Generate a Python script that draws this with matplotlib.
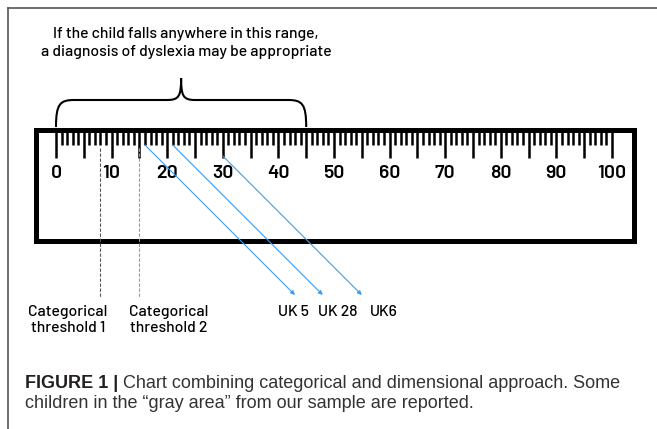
import matplotlib.pyplot as plt
from matplotlib.patches import Rectangle, PathPatch
from matplotlib.path import Path
import numpy as np

# ruler values and annotations
scale_min, scale_max = 0, 100
label_values = list(range(0, 101, 10))
thresholds = [8, 15]
threshold_labels = ['Categorical\nthreshold 1', 'Categorical\nthreshold 2']
children = ['UK 5', 'UK 28', 'UK6']
child_scores = [16, 21, 30]
range_lo, range_hi = 0, 45
range_text = 'If the child falls anywhere in this range,\na diagnosis of dyslexia may be appropriate'
caption_bold = 'FIGURE 1 |'
caption_line1 = ' Chart combining categorical and dimensional approach. Some'
caption_line2 = 'children in the \u201cgray area\u201d from our sample are reported.'

W, H = 657, 429
x0_px, px_per_unit = 56, 5.56   # ruler 0 sits at x=56 px, 5.56 px per unit


def xv(px):
    # pixel column -> ruler value
    return (px - x0_px) / px_per_unit


def u(px):
    # pixel distance -> ruler units
    return px / px_per_unit


din = ['Barlow', 'Barlow Semi Condensed', 'DejaVu Sans']
helv = ['Liberation Sans', 'DejaVu Sans']

fig = plt.figure(figsize=(W / 100, H / 100), dpi=100)
ax = fig.add_axes([0, 0, 1, 1])
ax.set_xlim(xv(0), xv(W))
ax.set_ylim(H, 0)
ax.axis('off')

# page border (top and left only)
ax.plot([xv(8), xv(W)], [8, 8], color='#555555', lw=1.2)
ax.plot([xv(8), xv(8)], [8, H], color='#555555', lw=1.2)

# ruler body
ax.add_patch(Rectangle((xv(35.5), 129.5), xv(634.5) - xv(35.5), 240.5 - 129.5,
                       fill=False, ec='black', lw=3.6, joinstyle='miter'))

# ticks: every unit, long every 5
vals = np.arange(scale_min, scale_max + 1)
tick_bottom = np.where(vals % 5 == 0, 158, 145)
ax.vlines(vals, 131, tick_bottom, color='black', lw=1.8)
for v in label_values:
    ax.text(v, 173, str(v), ha='center', va='center', fontsize=14,
            family=din, fontweight='semibold')

# brace over the dyslexia range
mid = (range_lo + range_hi) / 2
verts = [(range_lo, 127), (range_lo, 104), (range_lo + u(4), 100), (range_lo + u(18), 100),
         (mid - u(14), 100), (mid - u(14), 100), (mid - u(14), 100),
         (mid - u(2), 100), (mid, 96), (mid, 78),
         (mid, 96), (mid + u(2), 100), (mid + u(14), 100),
         (range_hi - u(18), 100), (range_hi - u(18), 100), (range_hi - u(18), 100),
         (range_hi - u(4), 100), (range_hi, 104), (range_hi, 127)]
codes = [Path.MOVETO] + [Path.CURVE4] * 18
ax.add_patch(PathPatch(Path(verts, codes), fill=False, ec='black', lw=1.5))
ax.text(xv(186), 43, range_text, ha='center', va='center', fontsize=11.3,
        family=din, fontweight='medium', linespacing=1.3)

# categorical thresholds
th_colors = ['#555555', '#9a9a9a']
th_label_x = [xv(68), xv(169)]
for t, lab, c, lx in zip(thresholds, threshold_labels, th_colors, th_label_x):
    ax.plot([t, t], [148, 297], color=c, lw=0.8, ls=(0, (3, 1.5)))
    ax.text(lx, 320, lab, ha='center', va='center', fontsize=11.3,
            family=din, fontweight='medium', linespacing=1.25)

# children in the gray area
child_label_x = [xv(278), xv(318), xv(370)]
for name, s, lx in zip(children, child_scores, child_label_x):
    y0 = 145 if s % 5 else 156
    dy = 295 - y0
    ax.annotate('', xy=(s + u(dy), 295), xytext=(s, y0),
                arrowprops=dict(arrowstyle='-|>', color='#3d9bf0', lw=0.8,
                                mutation_scale=6, shrinkA=0, shrinkB=0))
    ax.text(lx, 312, name, ha='left', va='center', fontsize=11.3,
            family=din, fontweight='medium')

# caption
t1 = ax.text(xv(25), 383, caption_bold, ha='left', va='center', fontsize=13,
             family=helv, fontweight='bold', color='#231f20')
fig.canvas.draw()
bb = t1.get_window_extent(fig.canvas.get_renderer())
x_after = ax.transData.inverted().transform((bb.x1, 0))[0]
ax.text(x_after, 383, caption_line1, ha='left', va='center', fontsize=13,
        family=helv, color='#333333')
ax.text(xv(25), 404, caption_line2, ha='left', va='center', fontsize=13,
        family=helv, color='#333333')

fig.savefig('out.png', dpi=100)
